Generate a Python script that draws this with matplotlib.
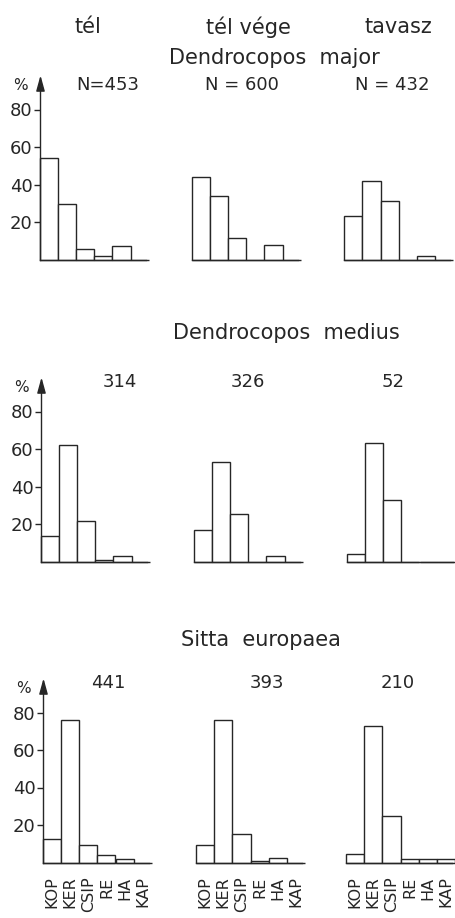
import matplotlib
matplotlib.use("Agg")
import matplotlib.pyplot as plt
from matplotlib.path import Path
import numpy as np

# ---- data -------------------------------------------------------------
categories = ["KOP", "KER", "CSIP", "RE", "HA", "KAP"]
seasons = ["tél", "tél vége", "tavasz"]
species = ["Dendrocopos  major", "Dendrocopos  medius", "Sitta  europaea"]

counts_major = ["N=453", "N = 600", "N = 432"]
counts_medius = ["314", "326", "52"]
counts_sitta = ["441", "393", "210"]

# percentage of observations per substrate class
major_tel = [54, 29.5, 5.5, 2, 7, 0]
major_tel_vege = [44, 34, 11.5, 0, 8, 0]
major_tavasz = [23, 42, 31, 0, 2, 0]

medius_tel = [13.7, 62.4, 21.7, 0.8, 3, 0]
medius_tel_vege = [17, 53.3, 25.6, 0, 2.7, 0]
medius_tavasz = [4, 63.3, 32.7, 0, 0, 0]

sitta_tel = [12.7, 76, 9.3, 3.9, 2.1, 0]
sitta_tel_vege = [9.6, 76, 15, 1, 2.3, 0]
sitta_tavasz = [4.3, 72.7, 24.6, 2, 2, 2]

yticks = [20, 40, 60, 80]

rows = [
    (species[0], counts_major, [major_tel, major_tel_vege, major_tavasz]),
    (species[1], counts_medius, [medius_tel, medius_tel_vege, medius_tavasz]),
    (species[2], counts_sitta, [sitta_tel, sitta_tel_vege, sitta_tavasz]),
]

# ---- layout (pixels) --------------------------------------------------
W, H = 456, 918
fig = plt.figure(figsize=(W / 100, H / 100), dpi=100)
fig.patch.set_facecolor("white")

INK = "#262626"
plt.rcParams["font.family"] = ["DejaVu Sans"]


def fx(x):
    return x / W


def fy(y):
    return 1 - y / H


baselines = [259.5, 561.5, 862.5]
col_left = [[39.5, 191.7, 344.3], [40.7, 193.7, 346.7], [42.7, 196.0, 346.0]]
bar_px = 18.2
axis_px = 106.0
px_per_pct = 1.875
ytop = 97

title_y = [58, 333, 640]
title_x = [274, 286, 261]
count_y = [85, 382, 683]
count_x = [[108, 242, 392], [120, 248, 393], [108, 267, 398]]

arrow = Path([(-0.55, -1), (0.55, -1), (0, 1), (-0.55, -1)],
             [Path.MOVETO, Path.LINETO, Path.LINETO, Path.CLOSEPOLY])

# season headers
for s, x in zip(seasons, [88, 248, 398]):
    fig.text(fx(x), fy(27), s, ha="center", va="center", fontsize=15, color=INK)

for r, (name, counts, panels) in enumerate(rows):
    fig.text(fx(title_x[r]), fy(title_y[r]), name, ha="center", va="center",
             fontsize=15, color=INK)
    for c, vals in enumerate(panels):
        left = col_left[r][c]
        base = baselines[r]
        ax = fig.add_axes([fx(left), fy(base), axis_px / W, ytop * px_per_pct / H])
        ax.set_facecolor("none")
        centers = np.arange(len(categories)) + 0.5
        ax.bar(centers, vals, width=1.0, facecolor="white", edgecolor=INK,
               linewidth=1.0, clip_on=False)
        ax.set_xlim(0, axis_px / bar_px)
        ax.set_ylim(0, ytop)
        for sp in ["top", "right"]:
            ax.spines[sp].set_visible(False)
        ax.spines["bottom"].set_color(INK)
        ax.spines["bottom"].set_linewidth(1.0)
        if c == 0:
            ax.spines["left"].set_color(INK)
            ax.spines["left"].set_linewidth(1.0)
            ax.set_yticks(yticks)
            ax.set_yticklabels([str(t) for t in yticks])
            ax.tick_params(axis="y", direction="out", length=4, width=1.0,
                           colors=INK, labelsize=13, pad=1)
            ax.plot([0], [ytop - 3.5], marker=arrow, markersize=9.5,
                    color=INK, clip_on=False)
            fig.text(fx(left - 19), fy(base - ytop * px_per_pct + 8), "%",
                     ha="center", va="center", fontsize=11, color=INK)
        else:
            ax.spines["left"].set_visible(False)
            ax.set_yticks([])
        if r == 2:
            ax.set_xticks(centers)
            ax.set_xticklabels(categories, rotation=90, fontsize=11.5, color=INK)
            ax.tick_params(axis="x", length=0, pad=10)
        else:
            ax.set_xticks([])
        fig.text(fx(count_x[r][c]), fy(count_y[r]), counts[c], ha="center",
                 va="center", fontsize=13, color=INK)

fig.savefig("out.png", dpi=100, facecolor="white")
